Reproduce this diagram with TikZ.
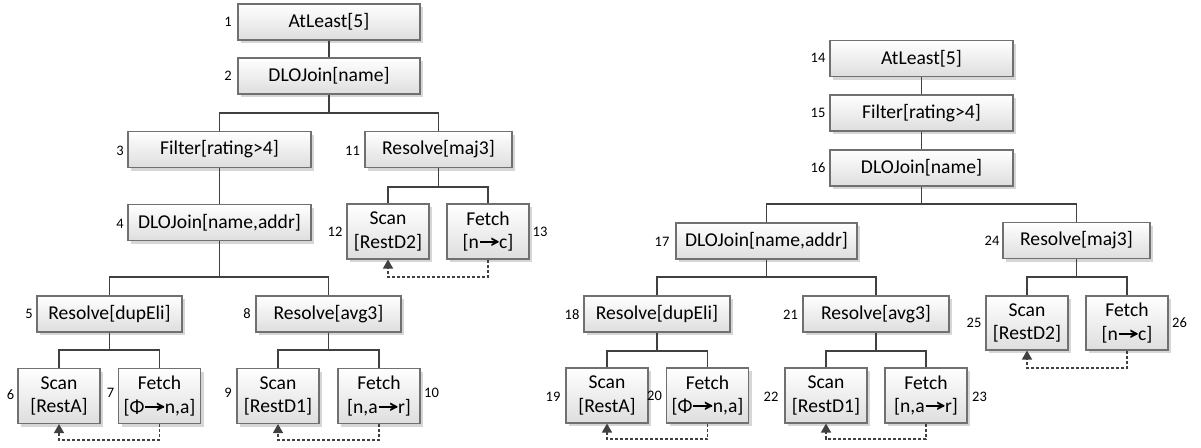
\documentclass[tikz,border=0pt]{standalone}
\usepackage{fontspec}
\setmainfont{Carlito}
\usetikzlibrary{shadows,arrows.meta}
% thick arrow: a bar shaft ending in a bold chevron
\newcommand{\rarr}{\kern0.05em\rule[0.285em]{0.95em}{0.105em}\kern-0.44em{\bfseries >}\kern-0.02em}
\definecolor{boxline}{RGB}{112,112,112}
\definecolor{wire}{RGB}{64,64,64}
\tikzset{
  op/.style={draw=boxline, line width=1.1pt, top color=white, bottom color=black!13,
    drop shadow={shadow xshift=3pt, shadow yshift=-3pt, fill=black, opacity=0.16},
    inner sep=0pt, align=center, font=\fontsize{19.6}{23.5}\selectfont},
  opwide/.style={op, minimum width=182pt, minimum height=36pt},
  opmid/.style={op, minimum width=146pt, minimum height=36pt},
  leaf/.style={op, minimum width=82pt, minimum height=55pt},
  num/.style={inner sep=0pt, font=\fontsize{14.5}{16}\selectfont},
  link/.style={draw=wire, line width=1.8pt},
  fetchback/.style={draw=wire, line width=1.6pt, dash pattern=on 3pt off 2pt,
    -{Triangle[width=10pt,length=9pt]}}
}
\begin{document}
\begin{tikzpicture}[x=1pt, y=-1pt]
\useasboundingbox (0,0) rectangle (1201,447);

% ---------------- first plan ----------------
\node[opwide] (n1) at (329,22) {AtLeast[5]};
\node[opwide] (n2) at (329,76) {DLOJoin[name]};
\node[opwide, minimum width=183pt] (n3) at (219.5,149.5) {Filter[rating>4]};
\node[opmid, minimum width=147pt] (n11) at (438.5,149.5) {Resolve[maj3]};
\node[opwide, minimum width=183pt] (n4) at (219.5,222.5) {DLOJoin[name,addr]};
\node[leaf] (n12) at (388,231.5) {Scan\\{[RestD2]}};
\node[leaf] (n13) at (488,231.5) {Fetch\\{[n\rarr c]}};
\node[opmid, minimum width=145pt] (n5) at (109.5,314) {Resolve[dupEli]};
\node[opmid, minimum width=145pt] (n8) at (328.5,314) {Resolve[avg3]};
\node[leaf] (n6) at (59,396) {Scan\\{[RestA]}};
\node[leaf] (n7) at (159.5,396) {Fetch\\{[Φ\rarr n,a]}};
\node[leaf] (n9) at (278,396) {Scan\\{[RestD1]}};
\node[leaf] (n10) at (379,396) {Fetch\\{[n,a\rarr r]}};

\node[num] (l1) at (228,22) {1};
\node[num] (l2) at (228,76) {2};
\node[num] (l3) at (120,151) {3};
\node[num] (l11) at (352.5,151) {11};
\node[num] (l4) at (120,224) {4};
\node[num] (l12) at (335,232) {12};
\node[num] (l13) at (540,232) {13};
\node[num] (l5) at (29,314) {5};
\node[num] (l8) at (247,314) {8};
\node[num] (l6) at (10.5,395) {6};
\node[num] (l7) at (110.5,393) {7};
\node[num] (l9) at (228,393) {9};
\node[num] (l10) at (431.5,393) {10};

% bus levels of the first plan
\coordinate (b2) at (0,113);
\coordinate (b11) at (0,187);
\coordinate (b4) at (0,277);
\coordinate (b5) at (0,350);
\coordinate (d13) at (0,277);
\coordinate (d7) at (0,440);

\draw[link] (n1.south) -- (n2.north);
\draw[link] (n3.north) |- (n2.south |- b2) -- (n2.south);
\draw[link] (n11.north) |- (n2.south |- b2);
\draw[link] (n3.south) -- (n4.north);
\draw[link] (n12.north) |- (n11.south |- b11) -- (n11.south);
\draw[link] (n13.north) |- (n11.south |- b11);
\draw[link] (n5.north) |- (n4.south |- b4) -- (n4.south);
\draw[link] (n8.north) |- (n4.south |- b4);
\draw[link] (n6.north) |- (n5.south |- b5) -- (n5.south);
\draw[link] (n7.north) |- (n5.south |- b5);
\draw[link] (n9.north) |- (n8.south |- b5) -- (n8.south);
\draw[link] (n10.north) |- (n8.south |- b5);

\draw[fetchback] (n13.south) -- (n13.south |- d13) -| (n12.south);
\draw[fetchback] (n7.south) -- (n7.south |- d7) -| (n6.south);
\draw[fetchback] (n10.south) -- (n10.south |- d7) -| (n9.south);

% ---------------- second plan ----------------
\node[opwide, minimum width=183pt] (n14) at (921.5,58.5) {AtLeast[5]};
\node[opwide, minimum width=183pt] (n15) at (921.5,113) {Filter[rating>4]};
\node[opwide, minimum width=183pt] (n16) at (921.5,168) {DLOJoin[name]};
\node[opwide, minimum width=181pt] (n17) at (766.5,241) {DLOJoin[name,addr]};
\node[opmid, minimum width=147pt] (n24) at (1076.5,240.5) {Resolve[maj3]};
\node[opmid] (n18) at (657,314) {Resolve[dupEli]};
\node[opmid] (n21) at (876,314) {Resolve[avg3]};
\node[leaf] (n19) at (607,395.5) {Scan\\{[RestA]}};
\node[leaf] (n20) at (707.5,395.5) {Fetch\\{[Φ\rarr n,a]}};
\node[leaf] (n22) at (826,395.5) {Scan\\{[RestD1]}};
\node[leaf] (n23) at (926,395.5) {Fetch\\{[n,a\rarr r]}};
\node[leaf, minimum height=54pt] (n25) at (1027,323) {Scan\\{[RestD2]}};
\node[leaf, minimum height=54pt] (n26) at (1127,323) {Fetch\\{[n\rarr c]}};

\node[num] (l14) at (818,58) {14};
\node[num] (l15) at (818,113) {15};
\node[num] (l16) at (818,168) {16};
\node[num] (l17) at (662,242) {17};
\node[num] (l24) at (992,241) {24};
\node[num] (l18) at (572,315) {18};
\node[num] (l21) at (790.5,315) {21};
\node[num] (l19) at (553,397) {19};
\node[num] (l20) at (654.5,396) {20};
\node[num] (l22) at (771,397) {22};
\node[num] (l23) at (979.5,397) {23};
\node[num] (l25) at (974,323) {25};
\node[num] (l26) at (1179.5,323) {26};

% bus levels of the second plan
\coordinate (b16) at (0,204);
\coordinate (b17) at (0,277);
\coordinate (b18) at (0,351);
\coordinate (d20) at (0,439);
\coordinate (d26) at (0,368);

\draw[link] (n14.south) -- (n15.north);
\draw[link] (n15.south) -- (n16.north);
\draw[link] (n17.north) |- (n16.south |- b16) -- (n16.south);
\draw[link] (n24.north) |- (n16.south |- b16);
\draw[link] (n18.north) |- (n17.south |- b17) -- (n17.south);
\draw[link] (n21.north) |- (n17.south |- b17);
\draw[link] (n25.north) |- (n24.south |- b17) -- (n24.south);
\draw[link] (n26.north) |- (n24.south |- b17);
\draw[link] (n19.north) |- (n18.south |- b18) -- (n18.south);
\draw[link] (n20.north) |- (n18.south |- b18);
\draw[link] (n22.north) |- (n21.south |- b18) -- (n21.south);
\draw[link] (n23.north) |- (n21.south |- b18);

\draw[fetchback] (n20.south) -- (n20.south |- d20) -| (n19.south);
\draw[fetchback] (n23.south) -- (n23.south |- d20) -| (n22.south);
\draw[fetchback] (n26.south) -- (n26.south |- d26) -| (n25.south);
\end{tikzpicture}
\end{document}
